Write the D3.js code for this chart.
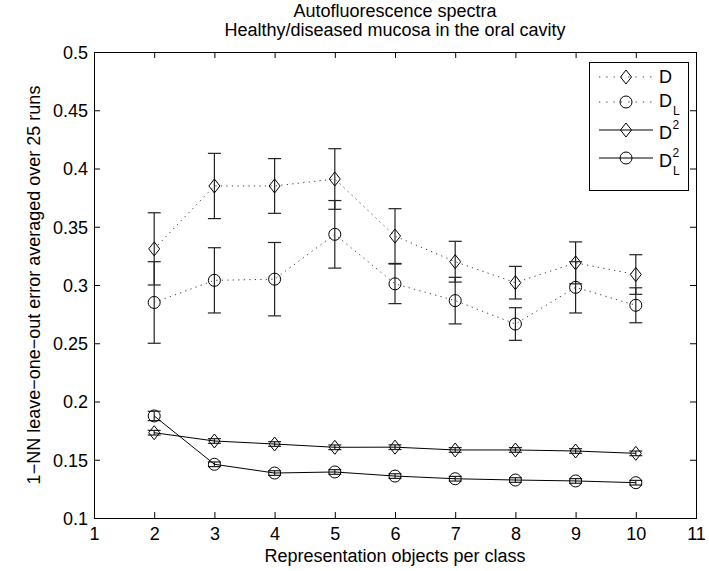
<!DOCTYPE html>
<html>
<head>
<meta charset="utf-8">
<script src="https://cdn.jsdelivr.net/npm/d3@7"></script>
<style>
  html, body { margin: 0; padding: 0; background: #fff; }
  svg { display: block; }
  text { font-family: "Liberation Sans", Arial, Helvetica, sans-serif; fill: #000; }
</style>
</head>
<body>
<svg id="chart" width="709" height="571"></svg>
<script>
// Representation set sizes (objects per class)
const objectsPerClass = [2, 3, 4, 5, 6, 7, 8, 9, 10];

// Mean 1-NN leave-one-out error, averaged over 25 runs
const errD    = [0.331, 0.385, 0.385, 0.391, 0.342, 0.320, 0.302, 0.319, 0.309];
const errDL   = [0.285, 0.304, 0.305, 0.3435, 0.301, 0.2866, 0.2665, 0.298, 0.2826];
const errD2   = [0.1732, 0.1661, 0.1635, 0.1607, 0.1608, 0.1584, 0.1584, 0.1575, 0.1555];
const errD2L  = [0.1876, 0.1461, 0.1386, 0.1395, 0.1360, 0.1337, 0.1326, 0.1318, 0.1303];

// Standard deviations (error bar half-lengths)
const sdD   = [0.031, 0.028, 0.0235, 0.026, 0.0235, 0.0175, 0.014, 0.018, 0.017];
const sdDL  = [0.035, 0.028, 0.0315, 0.029, 0.017, 0.020, 0.014, 0.022, 0.015];
const sdD2  = [0.002, 0.002, 0.002, 0.002, 0.002, 0.002, 0.002, 0.002, 0.002];
const sdD2L = [0.004, 0.002, 0.002, 0.002, 0.002, 0.002, 0.002, 0.002, 0.002];

// Axis ticks
const xTicks = [1, 2, 3, 4, 5, 6, 7, 8, 9, 10, 11];
const yTicks = [0.1, 0.15, 0.2, 0.25, 0.3, 0.35, 0.4, 0.45, 0.5];

const titleLines = ["Autofluorescence spectra", "Healthy/diseased mucosa in the oral cavity"];
const xLabel = "Representation objects per class";
const yLabel = "1\u2212NN leave\u2212one\u2212out error averaged over 25 runs";

// Series definitions: label pieces (base, superscript, subscript)
const series = [
  { base: "D", sup: null, sub: null, values: errD,   sd: sdD,   marker: "diamond", dotted: true },
  { base: "D", sup: null, sub: "L",  values: errDL,  sd: sdDL,  marker: "circle",  dotted: true },
  { base: "D", sup: "2",  sub: null, values: errD2,  sd: sdD2,  marker: "diamond", dotted: false },
  { base: "D", sup: "2",  sub: "L",  values: errD2L, sd: sdD2L, marker: "circle",  dotted: false }
];

const svg = d3.select("#chart");
const plot = { left: 94, right: 696, top: 52, bottom: 518 };

const x = d3.scaleLinear().domain([1, 11]).range([plot.left, plot.right]);
const y = d3.scaleLinear().domain([0.1, 0.5]).range([plot.bottom, plot.top]);

const FONT = 18;
const tickLen = 6;
const fmt = d => String(+d.toFixed(2));

// Axes (ticks pointing inward, box on all sides)
const gx = svg.append("g").attr("transform", `translate(0,${plot.bottom})`)
  .call(d3.axisBottom(x).tickValues(xTicks).tickFormat(fmt).tickSizeInner(-tickLen).tickSizeOuter(0).tickPadding(0));
gx.select(".domain").remove();
gx.selectAll(".tick line").attr("stroke", "#000");
gx.selectAll(".tick text").attr("font-size", FONT).attr("y", 22).attr("dy", null);

const gxTop = svg.append("g").attr("transform", `translate(0,${plot.top})`)
  .call(d3.axisTop(x).tickValues(xTicks).tickFormat("").tickSizeInner(-tickLen).tickSizeOuter(0));
gxTop.select(".domain").remove();
gxTop.selectAll(".tick line").attr("stroke", "#000");

const gy = svg.append("g").attr("transform", `translate(${plot.left},0)`)
  .call(d3.axisLeft(y).tickValues(yTicks).tickFormat(fmt).tickSizeInner(-tickLen).tickSizeOuter(0).tickPadding(0));
gy.select(".domain").remove();
gy.selectAll(".tick line").attr("stroke", "#000");
gy.selectAll(".tick text").attr("font-size", FONT).attr("x", -6).attr("dy", "0.36em");

const gyRight = svg.append("g").attr("transform", `translate(${plot.right},0)`)
  .call(d3.axisRight(y).tickValues(yTicks).tickFormat("").tickSizeInner(-tickLen).tickSizeOuter(0));
gyRight.select(".domain").remove();
gyRight.selectAll(".tick line").attr("stroke", "#000");

svg.selectAll(".tick text").attr("font-family", null);

// Plot box
svg.append("rect")
  .attr("x", plot.left + 0.5).attr("y", plot.top + 0.5)
  .attr("width", plot.right - plot.left).attr("height", plot.bottom - plot.top)
  .attr("fill", "none").attr("stroke", "#000").attr("stroke-width", 1);

// Titles and axis labels
const cx = (plot.left + plot.right) / 2;
svg.selectAll("text.title").data(titleLines).enter().append("text")
  .attr("class", "title")
  .attr("x", cx).attr("y", (d, i) => 17 + i * 19)
  .attr("text-anchor", "middle").attr("font-size", FONT)
  .text(d => d);

svg.append("text")
  .attr("x", cx).attr("y", 562)
  .attr("text-anchor", "middle").attr("font-size", FONT)
  .text(xLabel);

svg.append("text")
  .attr("transform", `translate(40,${(plot.top + plot.bottom) / 2}) rotate(-90)`)
  .attr("text-anchor", "middle").attr("font-size", FONT)
  .text(yLabel);

// Marker shapes
function drawMarker(g, type, px, py) {
  if (type === "diamond") {
    const hw = 5.5, hh = 7;
    g.append("path")
      .attr("d", `M${px},${py - hh}L${px + hw},${py}L${px},${py + hh}L${px - hw},${py}Z`)
      .attr("fill", "none").attr("stroke", "#000").attr("stroke-width", 1);
  } else {
    g.append("circle").attr("cx", px).attr("cy", py).attr("r", 6)
      .attr("fill", "none").attr("stroke", "#000").attr("stroke-width", 1);
  }
}

const line = d3.line().x(d => x(d.x)).y(d => y(d.v));
const capHalf = 6.5;

series.forEach(s => {
  const pts = objectsPerClass.map((xv, i) => ({ x: xv, v: s.values[i], sd: s.sd[i] }));
  const g = svg.append("g");

  // error bars
  pts.forEach(p => {
    const px = x(p.x), y0 = y(p.v - p.sd), y1 = y(p.v + p.sd);
    const eb = g.append("g").attr("stroke", "#222").attr("stroke-width", 1.2).attr("fill", "none");
    eb.append("line").attr("x1", px).attr("x2", px).attr("y1", y0).attr("y2", y1);
    eb.append("line").attr("x1", px - capHalf).attr("x2", px + capHalf).attr("y1", y0).attr("y2", y0);
    eb.append("line").attr("x1", px - capHalf).attr("x2", px + capHalf).attr("y1", y1).attr("y2", y1);
  });

  // connecting line
  g.append("path").datum(pts)
    .attr("d", line)
    .attr("fill", "none")
    .attr("stroke", s.dotted ? "#444" : "#000")
    .attr("stroke-width", 1)
    .attr("stroke-dasharray", s.dotted ? "1.3,4.2" : null);

  // markers
  pts.forEach(p => drawMarker(g, s.marker, x(p.x), y(p.v)));
});

// Legend
const legend = { x0: 589, y0: 62, x1: 688, y1: 190 };
svg.append("rect")
  .attr("x", legend.x0 + 0.5).attr("y", legend.y0 + 0.5)
  .attr("width", legend.x1 - legend.x0).attr("height", legend.y1 - legend.y0)
  .attr("fill", "#fff").attr("stroke", "#000").attr("stroke-width", 1);

const rowY = [77, 102, 130, 158];      // sample line / marker centre
const rowBase = [83, 107, 139, 167];   // baseline of the "D"
series.forEach((s, i) => {
  const ry = rowY[i];
  const g = svg.append("g");
  g.append("line")
    .attr("x1", 599).attr("x2", 653).attr("y1", ry).attr("y2", ry)
    .attr("stroke", s.dotted ? "#444" : "#000").attr("stroke-width", 1)
    .attr("stroke-dasharray", s.dotted ? "1.3,6" : null);
  drawMarker(g, s.marker, 626, ry);

  const tx = 659, base = rowBase[i];
  g.append("text").attr("x", tx).attr("y", base).attr("font-size", FONT).text(s.base);
  if (s.sup) g.append("text").attr("x", tx + 13.5).attr("y", base - 10).attr("font-size", 12).text(s.sup);
  if (s.sub) g.append("text").attr("x", tx + 14).attr("y", base + 8).attr("font-size", 12).text(s.sub);
});
</script>
</body>
</html>
